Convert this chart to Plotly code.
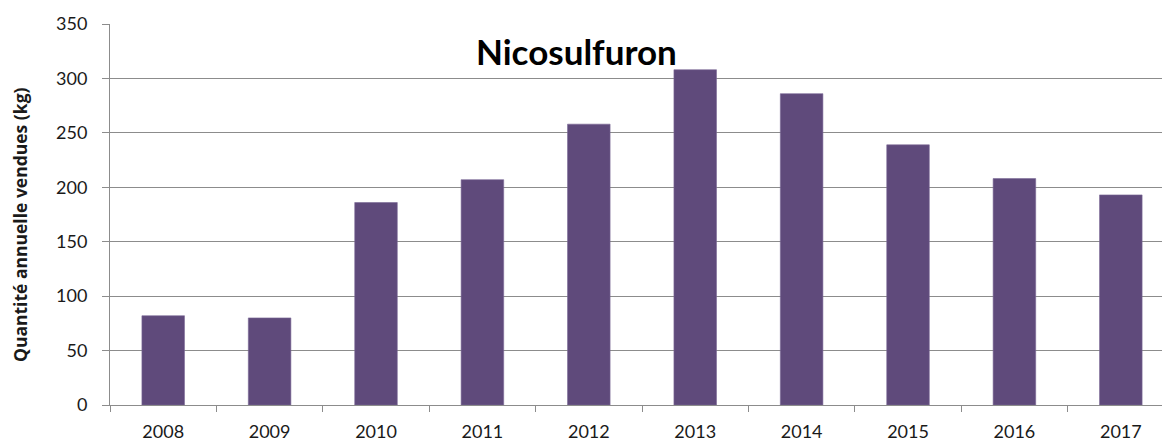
import plotly.graph_objects as go

# Annual sales of nicosulfuron (kg)
years = ["2008", "2009", "2010", "2011", "2012", "2013", "2014", "2015", "2016", "2017"]
quantities = [82, 80, 186, 207, 258, 308, 286, 239, 208, 193]

bar_color = "#5f4a7b"
grid_color = "#8c8c8c"
font_family = "Lato, 'Open Sans', sans-serif"

W, H = 1162, 441
left, right, top, bottom = 110, 0, 24, 36
plot_w = W - left - right
plot_h = H - top - bottom

fig = go.Figure(
    go.Bar(
        x=years,
        y=quantities,
        width=0.4,
        marker=dict(color=bar_color, line=dict(color="#7a6896", width=0.6)),
    )
)

fig.update_layout(
    width=W,
    height=H,
    margin=dict(l=left, r=right, t=top, b=bottom),
    paper_bgcolor="white",
    plot_bgcolor="white",
    showlegend=False,
    font=dict(family=font_family, color="#1a1a1a", size=18),
)

fig.update_xaxes(
    type="category",
    range=[-0.5, 9.387],
    showgrid=False,
    showline=True,
    linecolor=grid_color,
    linewidth=1,
    ticks="outside",
    tickson="boundaries",
    ticklen=6,
    tickcolor=grid_color,
    tickfont=dict(size=18, family=font_family, color="#1a1a1a"),
    ticklabelstandoff=10,
)

fig.update_yaxes(
    range=[0, 350],
    dtick=50,
    showgrid=True,
    gridcolor=grid_color,
    gridwidth=1,
    showline=True,
    linecolor=grid_color,
    linewidth=1,
    ticks="outside",
    ticklen=7,
    tickcolor=grid_color,
    tickfont=dict(size=18, family=font_family, color="#1a1a1a"),
    ticklabelstandoff=11,
    zeroline=False,
)

# Chart title inside the plot area
fig.add_annotation(
    text="<b>Nicosulfuron</b>",
    xref="paper", yref="paper",
    x=(576 - left) / plot_w,
    y=(H - bottom - 51) / plot_h,
    xanchor="center", yanchor="middle",
    showarrow=False,
    font=dict(size=35, family=font_family, color="black"),
)

# Vertical axis title
fig.add_annotation(
    text="<b>Quantité annuelle vendues (kg)</b>",
    xref="paper", yref="paper",
    x=(20 - left) / plot_w,
    y=(H - bottom - 225) / plot_h,
    xanchor="center", yanchor="middle",
    textangle=-90,
    showarrow=False,
    font=dict(size=17.5, family="'Open Sans', sans-serif", color="#1a1a1a"),
)

fig.write_html("out.html")
